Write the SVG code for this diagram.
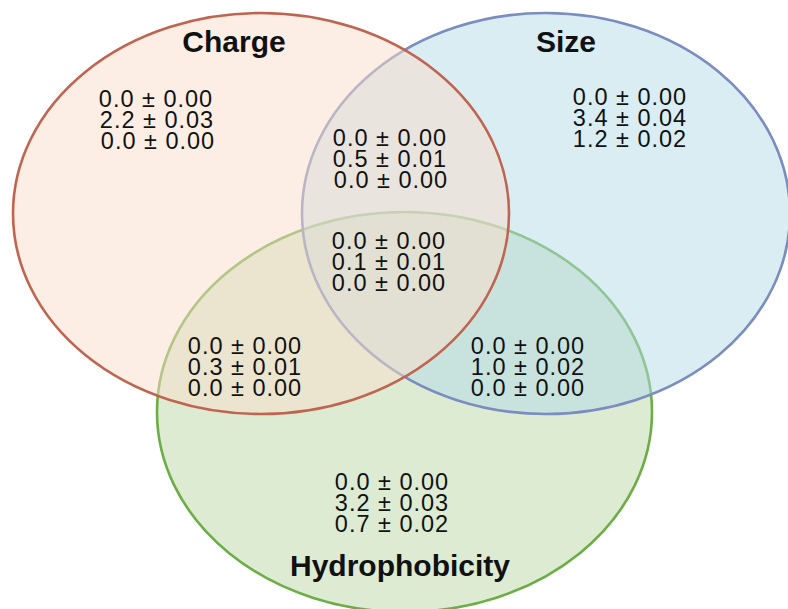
<svg xmlns="http://www.w3.org/2000/svg" width="788" height="609" viewBox="0 0 788 609">
<style>
.set{stroke-width:2.6;fill-opacity:0.5}
.title{font-family:"Liberation Sans",Arial,sans-serif;font-weight:bold;font-size:30px;fill:#111;text-anchor:middle}
.val{font-family:"Liberation Sans",Arial,sans-serif;font-size:23.5px;letter-spacing:1px;fill:#111;text-anchor:middle}
</style>
<rect width="788" height="609" fill="#ffffff"/>
<g id="hydrophobicity">
<ellipse class="set" cx="404.5" cy="412" rx="247.5" ry="200" fill="#b9d7a5" stroke="#6cae45"/>
</g>
<g id="size">
<ellipse class="set" cx="546" cy="213.5" rx="244" ry="200.5" fill="#b3dbe7" stroke="#7b8cc0"/>
</g>
<g id="charge">
<ellipse class="set" cx="261" cy="213.5" rx="248" ry="200.5" fill="#f9ddc9" stroke="#bf6450"/>
</g>
<g id="labels">
<text class="title" x="234" y="52">Charge</text>
<text class="title" x="566" y="52">Size</text>
<text class="title" x="400" y="576">Hydrophobicity</text>
</g>
<g id="charge-only">
<text class="val" x="156" y="107">0.0 ± 0.00</text>
<text class="val" x="157" y="128">2.2 ± 0.03</text>
<text class="val" x="158" y="149">0.0 ± 0.00</text>
</g>
<g id="size-only">
<text class="val" x="630" y="105">0.0 ± 0.00</text>
<text class="val" x="630" y="126">3.4 ± 0.04</text>
<text class="val" x="630" y="147">1.2 ± 0.02</text>
</g>
<g id="charge-size">
<text class="val" x="390" y="146">0.0 ± 0.00</text>
<text class="val" x="390" y="167">0.5 ± 0.01</text>
<text class="val" x="391" y="188">0.0 ± 0.00</text>
</g>
<g id="all-three">
<text class="val" x="389" y="249">0.0 ± 0.00</text>
<text class="val" x="389" y="270">0.1 ± 0.01</text>
<text class="val" x="389" y="291">0.0 ± 0.00</text>
</g>
<g id="charge-hydro">
<text class="val" x="245" y="354">0.0 ± 0.00</text>
<text class="val" x="245" y="375">0.3 ± 0.01</text>
<text class="val" x="245" y="396">0.0 ± 0.00</text>
</g>
<g id="size-hydro">
<text class="val" x="528" y="354">0.0 ± 0.00</text>
<text class="val" x="528" y="375">1.0 ± 0.02</text>
<text class="val" x="528" y="396">0.0 ± 0.00</text>
</g>
<g id="hydro-only">
<text class="val" x="392" y="490">0.0 ± 0.00</text>
<text class="val" x="392" y="511">3.2 ± 0.03</text>
<text class="val" x="392" y="532">0.7 ± 0.02</text>
</g>
<g id="connectors"></g>
</svg>
